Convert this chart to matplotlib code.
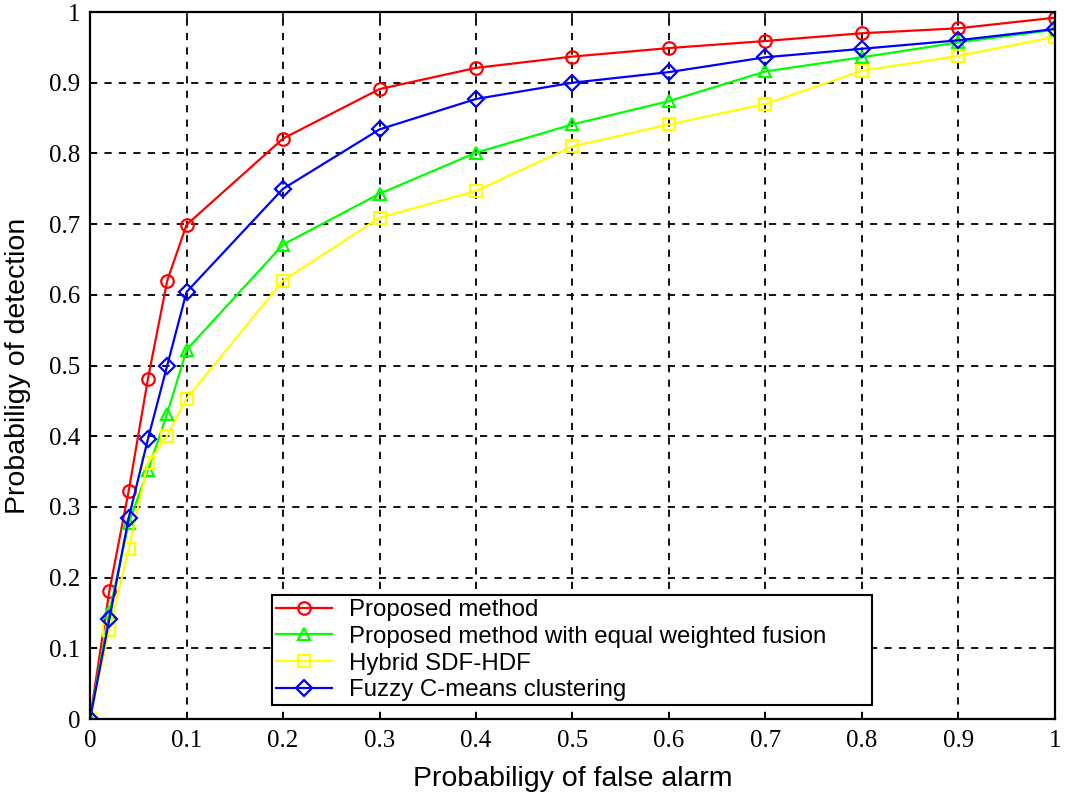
import matplotlib
matplotlib.use('Agg')
import matplotlib.pyplot as plt

# Datos
pfa = [0, 0.02, 0.04, 0.06, 0.08, 0.1, 0.2, 0.3, 0.4, 0.5, 0.6, 0.7, 0.8, 0.9, 1.0]
pd_proposed = [0, 0.181, 0.322, 0.481, 0.62, 0.699, 0.821, 0.891, 0.921, 0.937, 0.949, 0.959, 0.970, 0.977, 0.992]
pd_equal = [0, 0.151, 0.277, 0.352, 0.432, 0.522, 0.671, 0.743, 0.801, 0.841, 0.874, 0.916, 0.936, 0.957, 0.975]
pd_hybrid = [0, 0.126, 0.24, 0.362, 0.401, 0.453, 0.62, 0.709, 0.747, 0.81, 0.841, 0.870, 0.917, 0.938, 0.965]
pd_fuzzy = [0, 0.141, 0.284, 0.396, 0.5, 0.604, 0.75, 0.834, 0.877, 0.9, 0.915, 0.936, 0.948, 0.960, 0.976]

etiquetas = ['Proposed method', 'Proposed method with equal weighted fusion',
             'Hybrid SDF-HDF', 'Fuzzy C-means clustering']
ticks = [0, 0.1, 0.2, 0.3, 0.4, 0.5, 0.6, 0.7, 0.8, 0.9, 1]
tick_labels = ['0', '0.1', '0.2', '0.3', '0.4', '0.5', '0.6', '0.7', '0.8', '0.9', '1']

fig = plt.figure(figsize=(10.73, 7.96), dpi=100)
ax = fig.add_axes([0.0839, 0.0967, 0.8993, 0.8882])

estilo = dict(linewidth=1.6, markersize=9, markerfacecolor='none', markeredgewidth=1.6)
ax.plot(pfa, pd_proposed, '-o', color='#ff0000', label=etiquetas[0], **estilo)
ax.plot(pfa, pd_equal, '-^', color='#00ff00', label=etiquetas[1], **estilo)
ax.plot(pfa, pd_hybrid, '-s', color='#ffff00', label=etiquetas[2], **estilo)
ax.plot(pfa, pd_fuzzy, '-D', color='#0000ff', label=etiquetas[3],
        linewidth=1.6, markersize=8.5, markerfacecolor='none', markeredgewidth=1.6)

ax.set_xlim(0, 1)
ax.set_ylim(0, 1)
ax.set_xticks(ticks)
ax.set_yticks(ticks)
ax.set_xticklabels(tick_labels, fontfamily='Liberation Serif', fontsize=18)
ax.set_yticklabels(tick_labels, fontfamily='Liberation Serif', fontsize=18)
ax.tick_params(direction='in', length=5, width=1.2, top=True, right=True)
ax.tick_params(axis='x', pad=8)
ax.tick_params(axis='y', pad=7)

ax.grid(True, color='black', linestyle=(0, (4, 4)), linewidth=1.3)
for s in ax.spines.values():
    s.set_linewidth(1.6)

ax.set_xlabel('Probabiligy of false alarm', fontfamily='Liberation Sans', fontsize=20.5, labelpad=10)
ax.set_ylabel('Probabiligy of detection', fontfamily='Liberation Sans', fontsize=20.5, labelpad=13)

# Leyenda con ancho fijo, como en la original
leg = ax.legend(loc='lower left', bbox_to_anchor=(0.1886, 0.0198, 0.6218, 0.164),
                mode='expand', borderaxespad=0,
                fancybox=False, framealpha=1, edgecolor='black', handlelength=2.35,
                handletextpad=0.7, labelspacing=0.2, borderpad=0.15,
                prop={'family': 'Liberation Sans', 'size': 17.3})
leg.get_frame().set_linewidth(1.5)

fig.savefig('out.png', dpi=100)
